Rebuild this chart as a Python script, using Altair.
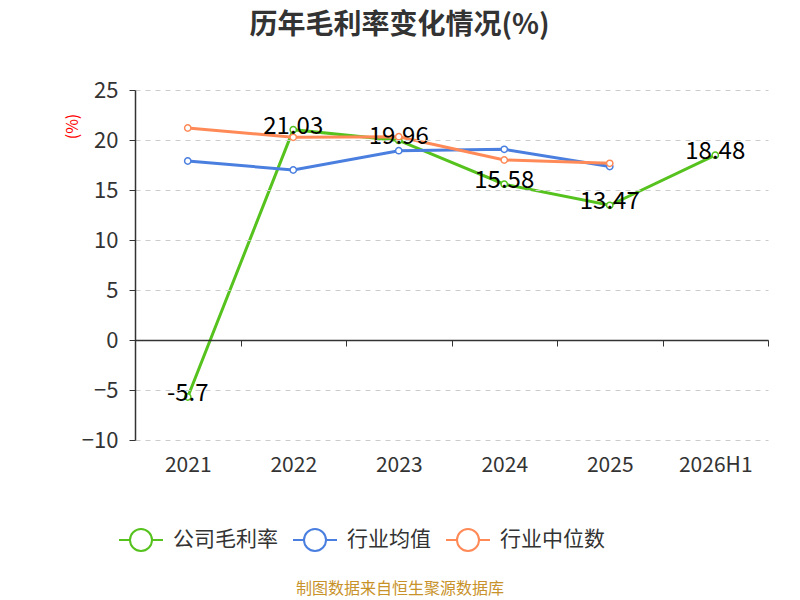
import pandas as pd
import altair as alt

FONT = "Noto Sans CJK SC"

years = ["2021", "2022", "2023", "2024", "2025", "2026H1"]
company = [-5.7, 21.03, 19.96, 15.58, 13.47, 18.48]
ind_mean = [17.9, 17.0, 18.93, 19.07, 17.35]
ind_median = [21.2, 20.27, 20.33, 18.0, 17.67]

series = ["公司毛利率", "行业均值", "行业中位数"]
colors = ["#56c21e", "#4a7fe0", "#ff8a57"]

rows = []
for name, vals in zip(series, [company, ind_mean, ind_median]):
    for y, v in zip(years, vals):
        rows.append({"year": y, "name": name, "value": v})
df = pd.DataFrame(rows)
df_comp = df[df["name"] == series[0]].copy()
df_comp["label"] = [f"{v:g}" for v in company]

color = alt.Color(
    "name:N",
    scale=alt.Scale(domain=series, range=colors),
    legend=alt.Legend(
        title=None, orient="none", direction="horizontal",
        legendX=-17, legendY=427,
        symbolType="M-1,0L-0.5,0M0.5,0L1,0M-0.5,0A0.5,0.5,0,1,1,0.5,0A0.5,0.5,0,1,1,-0.5,0",
        symbolSize=1936, symbolStrokeWidth=2, symbolFillColor="white",
        labelFont=FONT, labelFontSize=21, labelColor="#333333",
        labelOffset=9, columnPadding=11,
    ),
)

x = alt.X(
    "year:N", sort=years, title=None,
    axis=alt.Axis(
        offset=-100, labelAngle=0, labelFont=FONT, labelFontSize=21,
        labelColor="#333333", labelPadding=108, tickBand="extent",
        tickSize=6, tickColor="#333333", domainColor="#333333",
        domainWidth=1.5, zindex=1,
    ),
)
y = alt.Y(
    "value:Q",
    scale=alt.Scale(domain=[-10, 25], nice=False),
    axis=alt.Axis(
        values=[-10, -5, 0, 5, 10, 15, 20, 25], title="(%)",
        titleColor="red", titleFont=FONT, titleFontSize=16, titleFontWeight="normal",
        titleAngle=-90, titleX=-55, titleY=36, titleAlign="center",
        labelFont=FONT, labelFontSize=22, labelColor="#333333", labelPadding=11,
        tickSize=6, tickColor="#333333", domainColor="#333333", domainWidth=1.5,
        gridColor="#cccccc", gridDash=[5, 5], zindex=1,
    ),
)

layers = []
for name in series:
    base = alt.Chart(df).transform_filter(alt.datum.name == name)
    line = base.mark_line(strokeWidth=3).encode(x=x, y=y, color=color)
    pts = base.mark_point(shape="circle", fill="white", fillOpacity=1, size=40,
                          strokeWidth=1.5, opacity=1).encode(x=x, y=y, color=color)
    layers += [line, pts]

labels = alt.Chart(df_comp).mark_text(
    font=FONT, fontSize=24, color="black", baseline="middle", dy=-3
).encode(x=x, y=y, text="label:N")

source = alt.Chart(pd.DataFrame({"t": ["制图数据来自恒生聚源数据库"]})).mark_text(
    font=FONT, fontSize=16, color="#c8922a"
).encode(x=alt.value(265), y=alt.value(499), text="t:N")

chart = alt.layer(*layers, labels, source).properties(
    width=633, height=350,
    autosize=alt.AutoSizeParams(type="none"),
    padding={"left": 127, "top": 82, "right": 24, "bottom": 160},
    title=alt.Title("历年毛利率变化情况(%)", font=FONT, fontSize=28, fontWeight="bold",
                    color="#333333", dx=-52, offset=39),
).configure_view(stroke=None)

chart.save("out.html", embed_options={"renderer": "svg", "actions": False})
